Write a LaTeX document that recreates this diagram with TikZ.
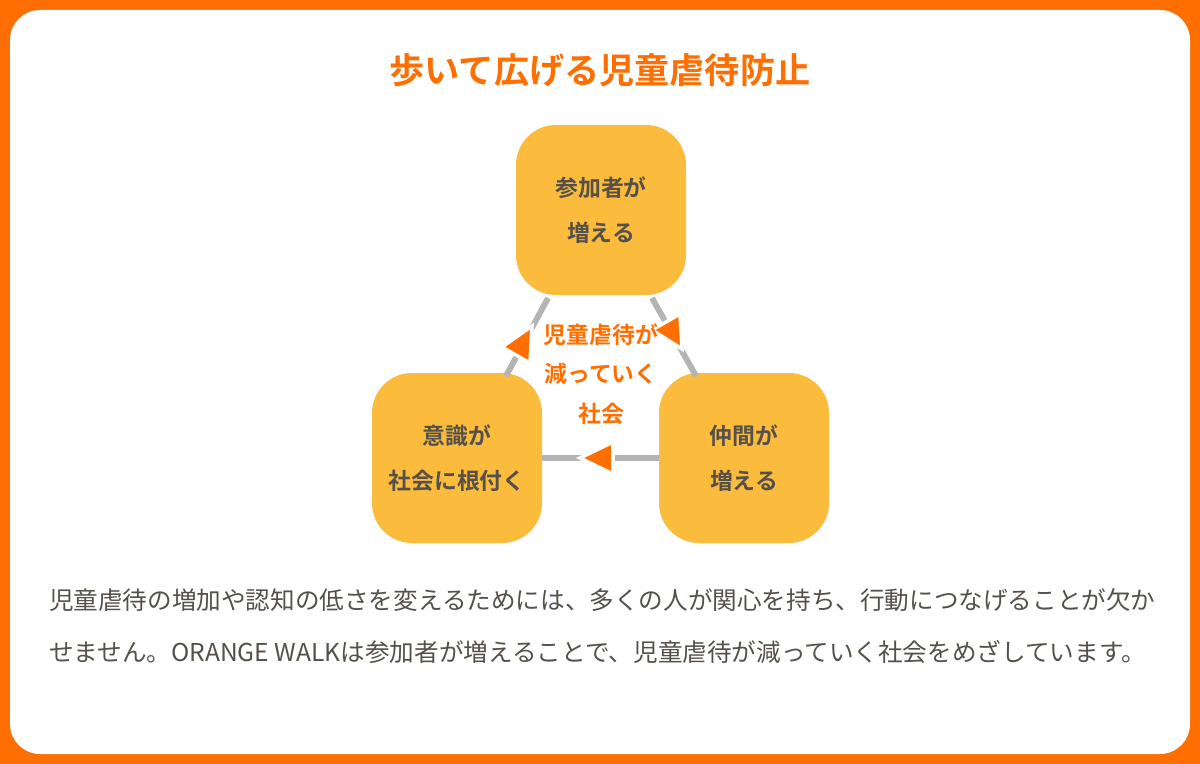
\documentclass[tikz,border=0pt]{standalone}
\usepackage{fontspec}
\setmainfont{Noto Sans CJK JP}
\newfontfamily\jpb{Noto Sans CJK JP Bold}
\definecolor{org}{HTML}{FF6E00}
\definecolor{box}{HTML}{FBBC3E}
\definecolor{txt}{HTML}{55504A}
\definecolor{ln}{HTML}{B4B4B4}
\begin{document}
\begin{tikzpicture}[x=0.03cm,y=-0.03cm,
  bx/.style={fill=box,rounded corners=40*0.03cm,minimum width=170*0.03cm,minimum height=170*0.03cm,align=center,font=\jpb\fontsize{19.5}{38}\selectfont,text=txt},
  con/.style={draw=ln,line width=5pt},
  tri/.style={fill=org,draw=white,line width=3pt,line join=miter}]
\fill[org] (0,0) rectangle (1200,764);
\fill[white,rounded corners=0.9cm] (10,10) rectangle (1190,754);
\node (title) at (600,70) {\jpb\fontsize{30}{36}\selectfont\color{org}歩いて広げる児童虐待防止};
\node[bx] (top) at (601,210) {参加者が\\増える};
\node[bx] (left) at (457,458) {意識が\\社会に根付く};
\node[bx] (right) at (744,458) {仲間が\\増える};
\draw[con] (548,298) -- (506,376);
\draw[con] (652,298) -- (696,376);
\draw[con] (left.east) -- (right.west);
\filldraw[tri] (532,326) -- (530,363) -- (502,347) -- cycle;
\filldraw[tri] (682,349) -- (680,314) -- (652,330) -- cycle;
\filldraw[tri] (580,458) -- (613,442) -- (613,474) -- cycle;
\node[align=center,text=org,font=\jpb\fontsize{19.5}{34}\selectfont] (mid) at (601,374) {児童虐待が\\減っていく\\社会};
\node[anchor=west,align=left,text=txt,font=\fontsize{21}{44}\selectfont] (body) at (45,626) {児童虐待の増加や認知の低さを変えるためには、多くの人が関心を持ち、行動につなげることが欠か\\せません。ORANGE WALKは参加者が増えることで、児童虐待が減っていく社会をめざしています。};
\end{tikzpicture}
\end{document}
